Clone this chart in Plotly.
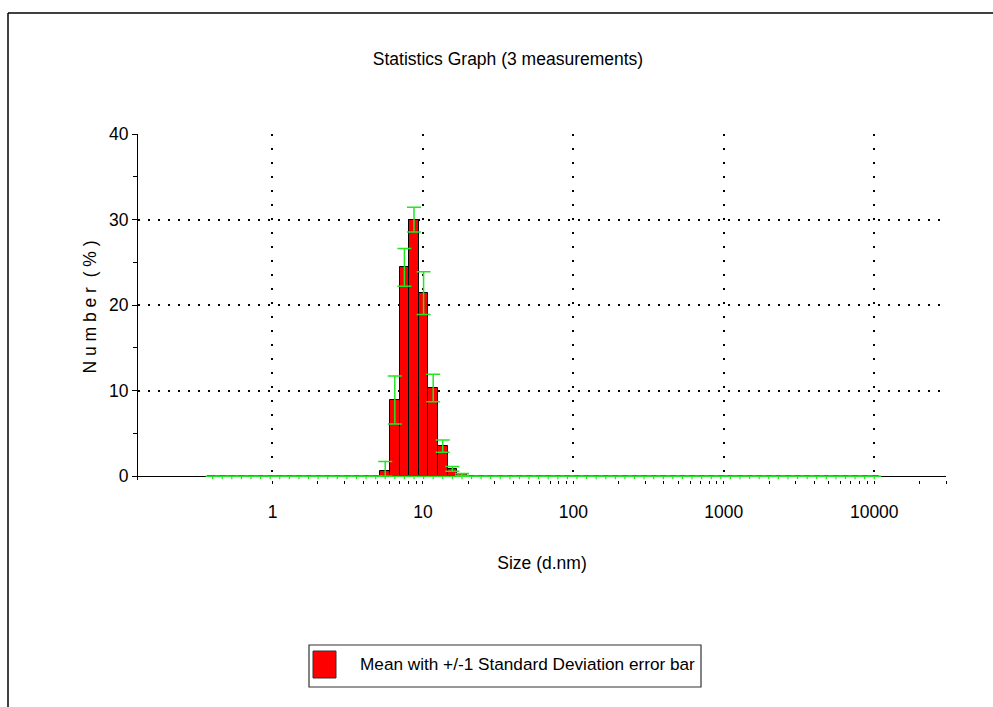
import plotly.graph_objects as go

# ---------------- data ----------------
size_nm = [0.4, 0.4632, 0.5365, 0.6213, 0.7195, 0.8332, 0.9649, 1.117, 1.294, 1.499,
           1.736, 2.01, 2.328, 2.696, 3.122, 3.615, 4.187, 4.849, 5.615, 6.503,
           7.531, 8.721, 10.1, 11.7, 13.54, 15.69, 18.17, 21.04, 24.36, 28.21,
           32.67, 37.84, 43.82, 50.75, 58.77, 68.06, 78.82, 91.28, 105.7, 122.4,
           141.8, 164.2, 190.1, 220.2, 255.0, 295.3, 342.0, 396.1, 458.7, 531.2,
           615.1, 712.4, 825.0, 955.4, 1106, 1281, 1484, 1718, 1990, 2305,
           2669, 3091, 3580, 4145, 4801, 5560, 6439, 7456, 8635, 10000]

number_mean = [0, 0, 0, 0, 0, 0, 0, 0, 0, 0,
               0, 0, 0, 0, 0, 0, 0, 0, 0.6, 8.9,
               24.4, 30.0, 21.4, 10.3, 3.5, 0.85, 0.2, 0, 0, 0,
               0, 0, 0, 0, 0, 0, 0, 0, 0, 0,
               0, 0, 0, 0, 0, 0, 0, 0, 0, 0,
               0, 0, 0, 0, 0, 0, 0, 0, 0, 0,
               0, 0, 0, 0, 0, 0, 0, 0, 0, 0]

number_sd = [0, 0, 0, 0, 0, 0, 0, 0, 0, 0,
             0, 0, 0, 0, 0, 0, 0, 0, 1.1, 2.8,
             2.2, 1.45, 2.5, 1.6, 0.72, 0.28, 0.12, 0, 0, 0,
             0, 0, 0, 0, 0, 0, 0, 0, 0, 0,
             0, 0, 0, 0, 0, 0, 0, 0, 0, 0,
             0, 0, 0, 0, 0, 0, 0, 0, 0, 0,
             0, 0, 0, 0, 0, 0, 0, 0, 0, 0]

x_tick_values = [1, 10, 100, 1000, 10000]
x_tick_labels = ["1", "10", "100", "1000", "10000"]
y_tick_values = [0, 10, 20, 30, 40]

title_text = "Statistics Graph (3 measurements)"
x_title = "Size (d.nm)"
y_title = "N u m b e r  ( % )"
legend_text = "Mean with +/-1 Standard Deviation error bar"

# ---------------- styling / geometry ----------------
FONT = "Liberation Sans, Arial, sans-serif"
FS = 17.5
GREEN = "#22e622"
W, H = 993, 707
L, R, T, B = 138, 47, 134, 227
PW, PH = W - L - R, H - T - B
X_RANGE = [-0.894, 4.477]  # log10 range of axis
Y_RANGE = [-0.45, 40]      # small pad below zero so the baseline marks are not clipped

def px2paper_x(px):
    return (px - L) / PW

def px2paper_y(py):
    return (H - B - py) / PH

# bar edges from geometric spacing of size classes
q = (size_nm[-1] / size_nm[0]) ** (1.0 / (len(size_nm) - 1))
sq = q ** 0.5
bar_left = [c / sq for c in size_nm]
bar_width = [c * (sq - 1 / sq) for c in size_nm]
err_minus = [min(s, m) for s, m in zip(number_sd, number_mean)]

# axis tick positions (major + minor) for crossing ticks
all_ticks = [m * 10 ** e for e in range(0, 4) for m in range(1, 10)] + [10000, 20000, 30000]
minor_ticks = [t for t in all_ticks if t not in x_tick_values]

fig = go.Figure()

fig.add_trace(go.Bar(
    x=bar_left, y=number_mean, width=bar_width, offset=0,
    marker=dict(color="#ff0000", line=dict(color="black", width=1)),
    showlegend=False, hoverinfo="skip",
))

# green baseline made by the zero-SD error caps, spanning the size classes
fig.add_trace(go.Scatter(
    x=[bar_left[0]] + size_nm + [size_nm[-1] * sq], y=[0] * (len(size_nm) + 2),
    mode="lines", line=dict(color=GREEN, width=1.5),
    showlegend=False, hoverinfo="skip",
))

# small downward ticks along the baseline
fig.add_trace(go.Scatter(
    x=size_nm, y=[0] * len(size_nm), mode="markers",
    marker=dict(size=1, color="rgba(0,0,0,0)"),
    error_y=dict(type="data", symmetric=False, array=[0] * len(size_nm),
                 arrayminus=[0.35] * len(size_nm), width=0, color=GREEN, thickness=1.2),
    showlegend=False, hoverinfo="skip",
))

# mean +/- 1 SD error bars
fig.add_trace(go.Scatter(
    x=size_nm, y=number_mean, mode="markers",
    marker=dict(size=1, color="rgba(0,0,0,0)"),
    error_y=dict(type="data", symmetric=False, array=number_sd, arrayminus=err_minus,
                 width=7, color=GREEN, thickness=1.5),
    cliponaxis=False, showlegend=False, name=legend_text,
))

shapes = [
    # outer frame (top and left)
    dict(type="line", xref="paper", yref="paper",
         x0=px2paper_x(8), x1=px2paper_x(1010), y0=px2paper_y(13), y1=px2paper_y(13),
         line=dict(color="black", width=1.5)),
    dict(type="line", xref="paper", yref="paper",
         x0=px2paper_x(8), x1=px2paper_x(8), y0=px2paper_y(13), y1=px2paper_y(720),
         line=dict(color="black", width=1.5)),
    # legend box
    dict(type="rect", xref="paper", yref="paper",
         x0=px2paper_x(309), x1=px2paper_x(701), y0=px2paper_y(645), y1=px2paper_y(687),
         line=dict(color="#333333", width=1.2), fillcolor="white"),
    dict(type="rect", xref="paper", yref="paper",
         x0=px2paper_x(313), x1=px2paper_x(336), y0=px2paper_y(651), y1=px2paper_y(678),
         line=dict(color="#333333", width=1), fillcolor="#ff0000"),
]

annotations = [
    dict(text=legend_text, xref="paper", yref="paper",
         x=px2paper_x(358), y=px2paper_y(664), xanchor="left", yanchor="middle",
         showarrow=False, font=dict(family=FONT, size=17.2, color="black")),
]

fig.update_layout(
    width=W, height=H,
    margin=dict(l=L, r=R, t=T, b=B, autoexpand=False),
    paper_bgcolor="white", plot_bgcolor="white",
    font=dict(family=FONT, size=FS, color="black"),
    title=dict(text=title_text, x=508 / W, y=1 - 59 / H, xref="container", yref="container",
               xanchor="center", yanchor="middle", font=dict(family=FONT, size=FS, color="black")),
    bargap=0,
    shapes=shapes,
    annotations=annotations,
    showlegend=False,
    xaxis=dict(
        type="log", range=X_RANGE, layer="below traces",
        tickmode="array", tickvals=x_tick_values, ticktext=x_tick_labels,
        ticks="outside", ticklen=3, tickcolor="black", tickwidth=1,
        ticklabelstandoff=13,
        showline=False, zeroline=False,
        showgrid=True, gridcolor="black", gridwidth=2, griddash="2px,12px",
        minor=dict(tickmode="array", tickvals=minor_ticks, ticks="outside", ticklen=3,
                   tickcolor="black", tickwidth=1, showgrid=False),
        title=dict(text=x_title, standoff=35, font=dict(family=FONT, size=FS)),
        tickfont=dict(family=FONT, size=FS),
        fixedrange=True,
    ),
    xaxis2=dict(
        type="log", range=X_RANGE, overlaying="x", anchor="y", side="bottom",
        tickmode="array", tickvals=all_ticks, ticks="inside", ticklen=9,
        tickcolor="black", tickwidth=1, showticklabels=False, showgrid=False,
        showline=False, zeroline=False,
    ),
    yaxis=dict(
        range=Y_RANGE, layer="below traces",
        tickmode="array", tickvals=y_tick_values,
        ticks="outside", ticklen=5, tickcolor="black", tickwidth=1,
        showline=True, linecolor="black", linewidth=1,
        zeroline=True, zerolinecolor="black", zerolinewidth=1,
        showgrid=True, gridcolor="black", gridwidth=2, griddash="2px,8px",
        minor=dict(tickmode="array", tickvals=[5, 15, 25, 35], ticks="outside", ticklen=4,
                   tickcolor="black", tickwidth=1, showgrid=False),
        title=dict(text=y_title, standoff=7, font=dict(family=FONT, size=FS)),
        tickfont=dict(family=FONT, size=FS),
        fixedrange=True,
    ),
    yaxis2=dict(
        range=Y_RANGE, overlaying="y", anchor="x", side="left",
        tickmode="array", tickvals=[5, 15, 25, 35], ticks="inside", ticklen=4,
        tickcolor="black", tickwidth=1, showticklabels=False, showgrid=False,
        showline=False, zeroline=False,
    ),
)

fig.write_html("out.html")
